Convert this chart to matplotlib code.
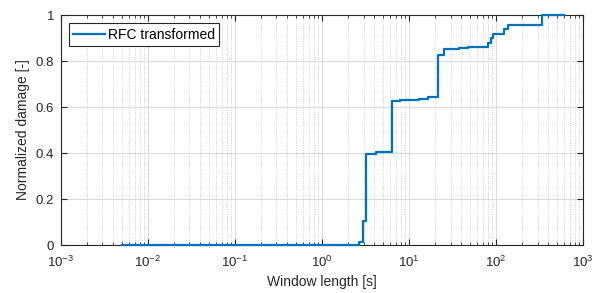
import matplotlib
matplotlib.use("Agg")
import matplotlib.pyplot as plt
from matplotlib.ticker import LogLocator, NullFormatter

# ---------- Data ----------
window_len = [0.005, 2.64, 2.93, 3.2, 4.17, 6.4, 7.8, 12.9, 16.7, 21.8, 25.3,
              37.9, 48.2, 81.6, 87.0, 91.6, 123.6, 138.0, 334.0, 600.0]
damage = [0.0, 0.015, 0.104, 0.396, 0.403, 0.626, 0.630, 0.633, 0.645, 0.826, 0.851,
          0.858, 0.862, 0.877, 0.899, 0.917, 0.938, 0.957, 1.0, 1.0]
y_ticks = [0, 0.2, 0.4, 0.6, 0.8, 1]
y_tick_labels = ['0', '0.2', '0.4', '0.6', '0.8', '1']
series_label = "RFC transformed"

# ---------- Style ----------
plt.rcParams['font.family'] = ['Liberation Sans', 'DejaVu Sans']
plt.rcParams['font.size'] = 9.5
dark = "#262626"

fig = plt.figure(figsize=(5.99, 2.93), dpi=100)
ax = fig.add_axes([0.1018, 0.1638, 0.8715, 0.785])

ax.plot(window_len, damage, drawstyle='steps-post', color='#0072BD',
        linewidth=1.6, label=series_label, clip_on=False, zorder=5)

ax.set_xscale('log')
ax.set_xlim(1e-3, 1e3)
ax.set_ylim(0, 1)
ax.xaxis.set_major_locator(LogLocator(base=10, numticks=10))
ax.xaxis.set_minor_locator(LogLocator(base=10, subs=range(2, 10), numticks=20))
ax.xaxis.set_minor_formatter(NullFormatter())
ax.set_yticks(y_ticks)
ax.set_yticklabels(y_tick_labels)

ax.grid(True, which='major', color='#dcdcdc', linewidth=0.8, linestyle='-')
ax.grid(True, which='minor', axis='x', color='#c4c4c4', linewidth=0.6, linestyle=':')
ax.set_axisbelow(True)

ax.tick_params(which='both', direction='in', top=True, right=True, colors=dark,
               labelsize=9.5)
ax.tick_params(axis='x', which='major', pad=7)
ax.tick_params(axis='y', which='major', pad=5)
ax.tick_params(which='major', length=4)
ax.tick_params(which='minor', length=2.5)
for s in ax.spines.values():
    s.set_color(dark)
    s.set_linewidth(0.8)

ax.set_xlabel("Window length [s]", color=dark, fontsize=10, labelpad=4)
ax.set_ylabel("Normalized damage [-]", color=dark, fontsize=10, labelpad=4)

leg = ax.legend(loc='upper left', fancybox=False, framealpha=1, edgecolor=dark,
                fontsize=10, handlelength=2.3, borderpad=0.3, handletextpad=0.2,
                borderaxespad=0.6)
leg.get_frame().set_linewidth(0.8)

fig.savefig("out.png", dpi=100)
